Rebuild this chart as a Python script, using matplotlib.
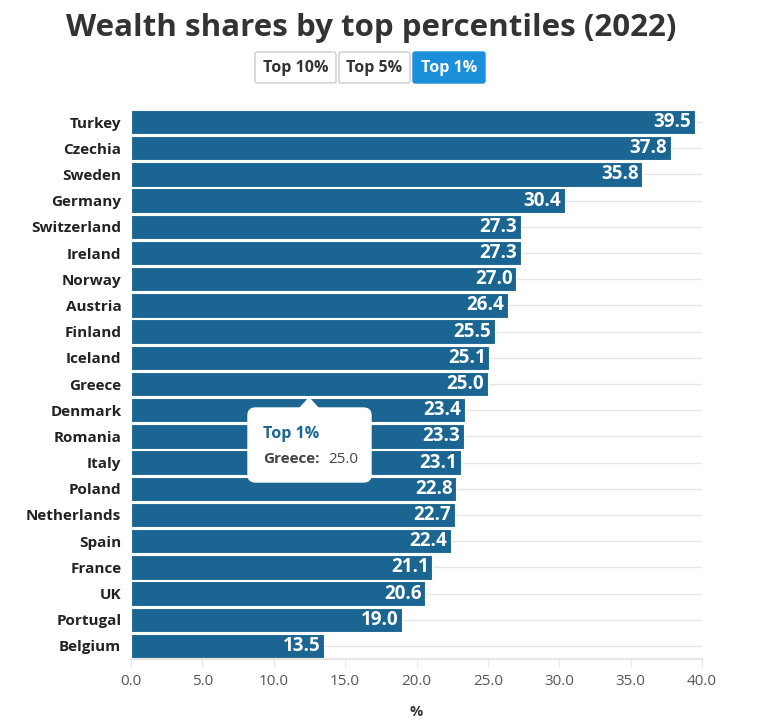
import matplotlib
matplotlib.use("Agg")
import matplotlib.pyplot as plt
from matplotlib.patches import FancyBboxPatch, Polygon
import numpy as np

plt.rcParams["font.family"] = ["Open Sans", "DejaVu Sans"]

countries = ["Turkey", "Czechia", "Sweden", "Germany", "Switzerland", "Ireland",
             "Norway", "Austria", "Finland", "Iceland", "Greece", "Denmark",
             "Romania", "Italy", "Poland", "Netherlands", "Spain", "France",
             "UK", "Portugal", "Belgium"]
top1 = [39.5, 37.8, 35.8, 30.4, 27.3, 27.3, 27.0, 26.4, 25.5, 25.1, 25.0, 23.4,
        23.3, 23.1, 22.8, 22.7, 22.4, 21.1, 20.6, 19.0, 13.5]
xticks = [0, 5, 10, 15, 20, 25, 30, 35, 40]
buttons = ["Top 10%", "Top 5%", "Top 1%"]

BAR = "#1a6592"
W, H = 767, 721

fig = plt.figure(figsize=(W / 100, H / 100), dpi=100)
ax = fig.add_axes([131 / W, 1 - 659 / H, (702 - 131) / W, (659 - 109) / H])

y = np.arange(len(countries))
for yi in y:
    ax.axhline(yi, color="#e6e6e6", lw=1, zorder=0)
ax.barh(y, top1, height=0.93, color=BAR, edgecolor="white", linewidth=0.8, zorder=2)
for yi, v in zip(y, top1):
    ax.text(v - 0.25, yi, f"{v:.1f}", ha="right", va="center", color="white",
            fontsize=13.5, fontweight="bold", zorder=3)

ax.set_ylim(len(countries) - 0.5, -0.5)
ax.set_xlim(0, 40)
ax.set_yticks(y)
ax.set_yticklabels(countries, fontsize=11, fontweight="bold", color="#222")
ax.set_xticks(xticks)
ax.set_xticklabels([f"{t:.1f}" for t in xticks], fontsize=11, color="#555")
ax.tick_params(axis="y", length=0, pad=7)
ax.tick_params(axis="x", length=6, color="#e6e6e6", pad=5)
for s in ["top", "right", "left"]:
    ax.spines[s].set_visible(False)
ax.spines["bottom"].set_color("#e6e6e6")
ax.spines["bottom"].set_linewidth(1.5)
fig.text(416 / W, 1 - 712 / H, "%", ha="center", va="center", fontsize=10.5,
         fontweight="bold", color="#333")

# title and buttons
fig.text(371 / W, 1 - 28 / H, "Wealth shares by top percentiles (2022)", ha="center",
         va="center", fontsize=22.5, fontweight="bold", color="#333")
bx = [(255, 336), (339, 410), (413, 485)]
for (x0, x1), lab in zip(bx, buttons):
    active = lab == "Top 1%"
    fig.patches.append(FancyBboxPatch((x0 / W, 1 - 83 / H), (x1 - x0) / W, 31 / H,
                                      boxstyle="round,pad=0,rounding_size=0.003",
                                      transform=fig.transFigure,
                                      facecolor="#1b8fd9" if active else "white",
                                      edgecolor="#1b8fd9" if active else "#cccccc", lw=1))
    fig.text((x0 + x1) / 2 / W, 1 - 68 / H, lab, ha="center", va="center", fontsize=11.5,
             fontweight="bold", color="white" if active else "#333")

# tooltip
fig.patches.append(FancyBboxPatch((248 / W, 1 - 482 / H), 123 / W, 74 / H,
                                  boxstyle="round,pad=0,rounding_size=0.01",
                                  transform=fig.transFigure, facecolor="white",
                                  edgecolor="white", zorder=5))
fig.patches.append(Polygon([(299 / W, 1 - 409 / H), (309 / W, 1 - 398 / H), (319 / W, 1 - 409 / H)],
                           closed=True, transform=fig.transFigure, facecolor="white",
                           edgecolor="white", zorder=5))
fig.text(263 / W, 1 - 434 / H, "Top 1%", ha="left", va="center", fontsize=11.5,
         fontweight="bold", color=BAR, zorder=6)
fig.text(263 / W, 1 - 459 / H, "Greece:", ha="left", va="center", fontsize=11,
         fontweight="bold", color="#444", zorder=6)
fig.text(328 / W, 1 - 459 / H, "25.0", ha="left", va="center", fontsize=11,
         color="#444", zorder=6)

fig.savefig("out.png", dpi=100, facecolor="white")
